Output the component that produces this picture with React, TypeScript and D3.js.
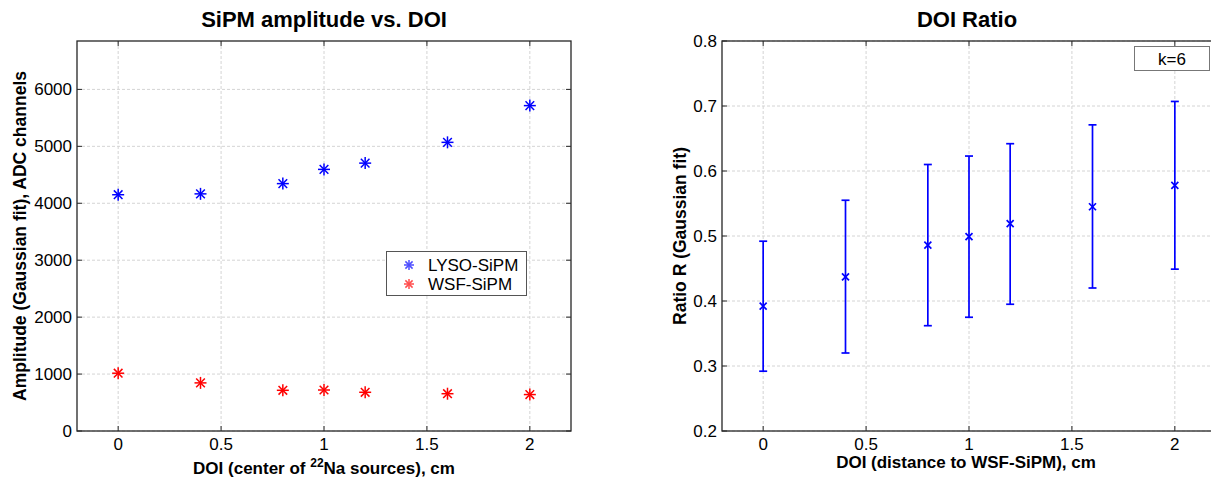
import React from "react";
import * as d3 from "d3";

const doi = [0, 0.4, 0.8, 1.0, 1.2, 1.6, 2.0];
const lysoAmp = [4150, 4165, 4345, 4595, 4705, 5070, 5715];
const wsfAmp = [1015, 845, 715, 720, 680, 655, 640];
const ratioMean = [0.392, 0.437, 0.486, 0.499, 0.519, 0.545, 0.578];
const ratioLow = [0.292, 0.32, 0.362, 0.375, 0.395, 0.42, 0.449];
const ratioHigh = [0.492, 0.555, 0.61, 0.623, 0.642, 0.671, 0.707];
const xTicks = [0, 0.5, 1, 1.5, 2];
const ampTicks = [0, 1000, 2000, 3000, 4000, 5000, 6000];
const ratioTicks = [0.2, 0.3, 0.4, 0.5, 0.6, 0.7, 0.8];

const FONT = "'Liberation Sans', Arial, Helvetica, sans-serif";
const AXIS = "#262626";
const GRID = "#d4d4d4";
const TICKFS = 17;
const LABELFS = 17;
const YLABELFS = 17.5;
const TITLEFS = 22;

function Star({ x, y, color, r = 6 }: { x: number; y: number; color: string; r?: number }) {
  const d = r * 0.72;
  return (
    <g stroke={color} strokeWidth={1.5}>
      <line x1={x - r} y1={y} x2={x + r} y2={y} />
      <line x1={x} y1={y - r} x2={x} y2={y + r} />
      <line x1={x - d} y1={y - d} x2={x + d} y2={y + d} />
      <line x1={x - d} y1={y + d} x2={x + d} y2={y - d} />
    </g>
  );
}

function Frame({
  x0, x1, y0, y1, xs, ys, yt, yfmt,
}: {
  x0: number; x1: number; y0: number; y1: number;
  xs: d3.ScaleLinear<number, number>; ys: d3.ScaleLinear<number, number>;
  yt: number[]; yfmt: (v: number) => string;
}) {
  const tl = 5;
  return (
    <g fontFamily={FONT}>
      {xTicks.map((t) => (
        <line key={"gx" + t} x1={xs(t)} x2={xs(t)} y1={y0} y2={y1} stroke={GRID} strokeDasharray="3,2" />
      ))}
      {yt.map((t) => (
        <line key={"gy" + t} x1={x0} x2={x1} y1={ys(t)} y2={ys(t)} stroke={GRID} strokeDasharray="3,2" />
      ))}
      <rect x={x0} y={y0} width={x1 - x0} height={y1 - y0} fill="none" stroke={AXIS} strokeWidth={1.3} />
      {xTicks.map((t) => (
        <g key={"tx" + t}>
          <line x1={xs(t)} x2={xs(t)} y1={y1} y2={y1 - tl} stroke={AXIS} />
          <line x1={xs(t)} x2={xs(t)} y1={y0} y2={y0 + tl} stroke={AXIS} />
          <text x={xs(t)} y={y1 + 19} textAnchor="middle" fontSize={TICKFS} fill="#000">
            {d3.format("~g")(t)}
          </text>
        </g>
      ))}
      {yt.map((t) => (
        <g key={"ty" + t}>
          <line x1={x0} x2={x0 + tl} y1={ys(t)} y2={ys(t)} stroke={AXIS} />
          <line x1={x1} x2={x1 - tl} y1={ys(t)} y2={ys(t)} stroke={AXIS} />
          <text x={x0 - 5} y={ys(t) + 6} textAnchor="end" fontSize={TICKFS} fill="#000">
            {yfmt(t)}
          </text>
        </g>
      ))}
    </g>
  );
}

export default function App() {
  const top = 41;
  const bottom = 431;

  // Left panel
  const lx0 = 77, lx1 = 571;
  const lxs = d3.scaleLinear().domain([-0.2, 2.2]).range([lx0, lx1]);
  const lys = d3.scaleLinear().domain([0, 6850]).range([bottom, top]);

  // Right panel
  const rx0 = 722, rx1 = 1216;
  const rxs = d3.scaleLinear().domain([-0.2, 2.2]).range([rx0, rx1]);
  const rys = d3.scaleLinear().domain([0.2, 0.8]).range([bottom, top]);

  const lcx = (lx0 + lx1) / 2;
  const rcx = (rx0 + rx1) / 2;
  const cy = (top + bottom) / 2;

  return (
    <svg
      width={1211}
      height={481}
      style={{ position: "absolute", left: 0, top: 0, background: "#fff" }}
    >
      <rect width={1211} height={481} fill="#fff" />
      {/* Left panel */}
      <Frame x0={lx0} x1={lx1} y0={top} y1={bottom} xs={lxs} ys={lys} yt={ampTicks} yfmt={(v) => String(v)} />
      {doi.map((d, i) => (
        <Star key={"l" + i} x={lxs(d)} y={lys(lysoAmp[i])} color="#0000ff" />
      ))}
      {doi.map((d, i) => (
        <Star key={"w" + i} x={lxs(d)} y={lys(wsfAmp[i])} color="#ff0000" />
      ))}
      <g fontFamily={FONT}>
        <rect x={386.5} y={251.5} width={140} height={44} fill="#fff" stroke="#555" strokeWidth={1} />
        <Star x={409} y={265} color="#4d4dff" r={5} />
        <text x={428} y={271} fontSize={LABELFS} fill="#000">LYSO-SiPM</text>
        <Star x={409} y={284} color="#ff4d4d" r={5} />
        <text x={428} y={290} fontSize={LABELFS} fill="#000">WSF-SiPM</text>

        <text x={lcx} y={27} textAnchor="middle" fontSize={TITLEFS} fontWeight="bold">SiPM amplitude vs. DOI</text>
        <text x={lcx} y={474} textAnchor="middle" fontSize={LABELFS} fontWeight="bold">
          DOI (center of <tspan dy={-7} fontSize={12}>22</tspan>
          <tspan dy={7}>Na sources), cm</tspan>
        </text>
        <text
          transform={`translate(26,${cy}) rotate(-90)`}
          textAnchor="middle"
          fontSize={YLABELFS}
          fontWeight="bold"
        >
          Amplitude (Gaussian fit), ADC channels
        </text>
      </g>

      {/* Right panel */}
      <Frame x0={rx0} x1={rx1} y0={top} y1={bottom} xs={rxs} ys={rys} yt={ratioTicks} yfmt={(v) => v.toFixed(1)} />
      {doi.map((d, i) => {
        const x = rxs(d);
        const c = 4;
        const m = 3.5;
        const y = rys(ratioMean[i]);
        return (
          <g key={"r" + i} stroke="#0000ff" strokeWidth={1.7}>
            <line x1={x} x2={x} y1={rys(ratioLow[i])} y2={rys(ratioHigh[i])} />
            <line x1={x - c} x2={x + c} y1={rys(ratioLow[i])} y2={rys(ratioLow[i])} />
            <line x1={x - c} x2={x + c} y1={rys(ratioHigh[i])} y2={rys(ratioHigh[i])} />
            <line x1={x - m} x2={x + m} y1={y - m} y2={y + m} />
            <line x1={x - m} x2={x + m} y1={y + m} y2={y - m} />
          </g>
        );
      })}
      <g fontFamily={FONT}>
        <rect x={1134.5} y={46.5} width={75} height={24} fill="#fff" stroke="#777" strokeWidth={1} />
        <text x={1172} y={65} textAnchor="middle" fontSize={LABELFS}>k=6</text>
        <text x={rcx - 2} y={27} textAnchor="middle" fontSize={TITLEFS} fontWeight="bold">DOI Ratio</text>
        <text x={rcx - 3} y={468} textAnchor="middle" fontSize={LABELFS} fontWeight="bold">
          DOI (distance to WSF-SiPM), cm
        </text>
        <text
          transform={`translate(686,${cy}) rotate(-90)`}
          textAnchor="middle"
          fontSize={YLABELFS}
          fontWeight="bold"
        >
          Ratio R (Gaussian fit)
        </text>
      </g>
    </svg>
  );
}
